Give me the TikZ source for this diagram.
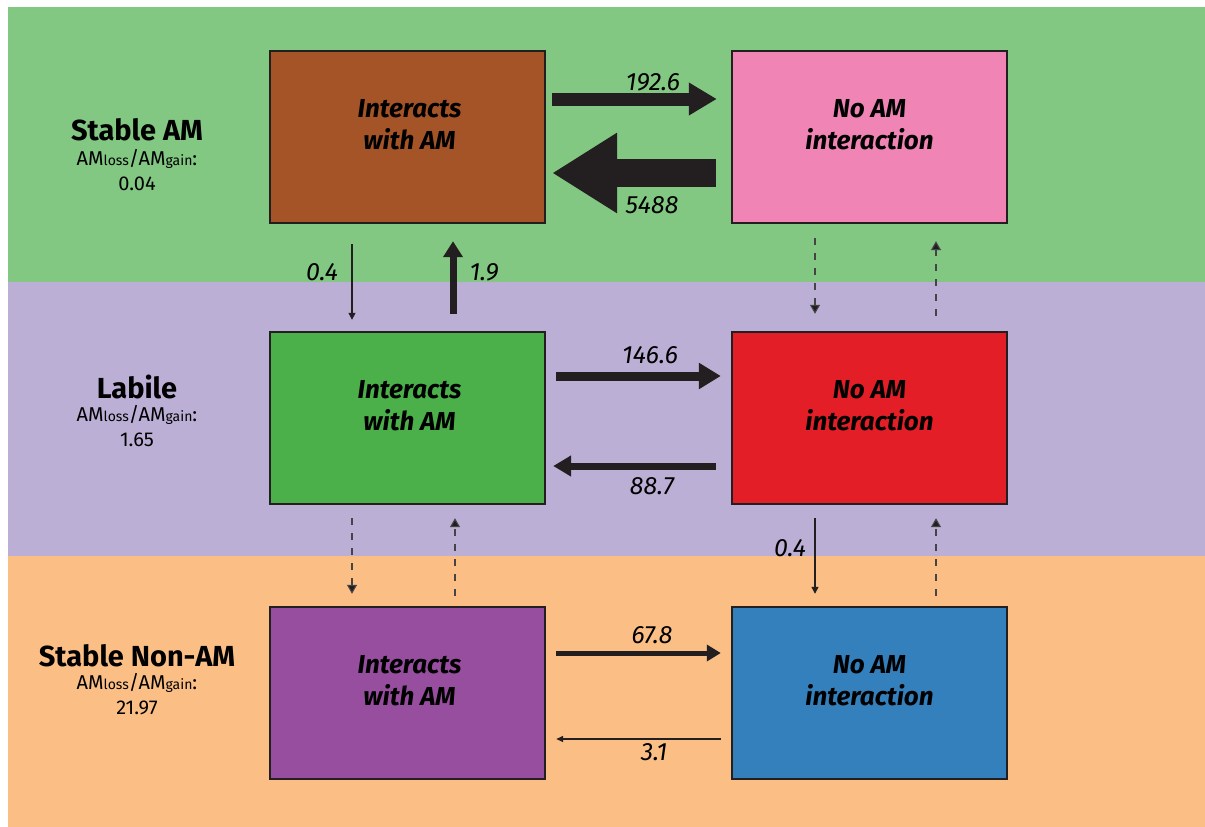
\documentclass[tikz,border=0pt]{standalone}
\usepackage{fontspec}
\setmainfont{Fira Sans}
\usetikzlibrary{arrows.meta,calc}

\definecolor{bandgreen}{HTML}{82C782}
\definecolor{bandpurple}{HTML}{BCAFD5}
\definecolor{bandorange}{HTML}{FBBF86}
\definecolor{boxbrown}{HTML}{A55428}
\definecolor{boxpink}{HTML}{EF84B5}
\definecolor{boxgreen}{HTML}{4BB04A}
\definecolor{boxred}{HTML}{E31E26}
\definecolor{boxpurple}{HTML}{974E9F}
\definecolor{boxblue}{HTML}{3480BD}
\definecolor{ink}{HTML}{231F20}
\definecolor{dashink}{HTML}{444444}

\tikzset{
  statebox/.style={draw=ink, line width=2.4pt, minimum width=275pt, minimum height=172pt,
    inner sep=0pt},
  boxtext/.style={align=center, inner sep=0pt,
    font=\fontsize{26}{32}\selectfont\bfseries\itshape},
  rate/.style={font=\fontsize{25}{25}\selectfont\itshape, text=black, inner sep=0pt},
  grouptitle/.style={font=\fontsize{29}{29}\selectfont\bfseries, inner sep=0pt},
  groupsub/.style={font=\fontsize{20}{25}\selectfont, align=center, inner sep=0pt},
  thinflow/.style={draw=ink, line width=1.3pt, -{Triangle[length=7pt, width=7pt]}},
  dashflow/.style={draw=dashink, line width=1.1pt, dash pattern=on 7pt off 8pt,
    -{Triangle[length=9pt, width=10pt, fill=ink]}}
}

\newcommand{\ratio}[1]{AM{\fontsize{14}{14}\selectfont loss}/AM{\fontsize{14}{14}\selectfont gain}:\\#1}

\begin{document}
\begin{tikzpicture}[x=1pt, y=-1pt]
  \useasboundingbox (0,0) rectangle (1205,827);

  % background bands
  \fill[bandgreen]  (8,7)   rectangle (1205,282);
  \fill[bandpurple] (8,282) rectangle (1205,556);
  \fill[bandorange] (8,556) rectangle (1205,827);

  % group titles
  \node[grouptitle] (tStable) at (137,130) {Stable AM};
  \node[groupsub, anchor=north] (sStable) at (137,149) {\ratio{0.04}};
  \node[grouptitle] (tLabile) at (137,387) {Labile};
  \node[groupsub, anchor=north] (sLabile) at (137,405) {\ratio{1.65}};
  \node[grouptitle] (tNon) at (137,656) {Stable Non-AM};
  \node[groupsub, anchor=north] (sNon) at (137,673) {\ratio{21.97}};

  % state boxes
  \node[statebox, fill=boxbrown]  (a1) at (407.5,137) {};
  \node[statebox, fill=boxpink]   (b1) at (869.5,137) {};
  \node[statebox, fill=boxgreen]  (a2) at (407.5,418) {};
  \node[statebox, fill=boxred]    (b2) at (869.5,418) {};
  \node[statebox, fill=boxpurple] (a3) at (407.5,693) {};
  \node[statebox, fill=boxblue]   (b3) at (869.5,693) {};

  % box captions, set a little above centre
  \node[boxtext] (a1t) at ($(a1.center)+(2,-12)$) {Interacts\\with AM};
  \node[boxtext] (b1t) at ($(b1.center)+(0,-12)$) {No AM\\interaction};
  \node[boxtext] (a2t) at ($(a2.center)+(2,-12)$) {Interacts\\with AM};
  \node[boxtext] (b2t) at ($(b2.center)+(0,-12)$) {No AM\\interaction};
  \node[boxtext] (a3t) at ($(a3.center)+(2,-12)$) {Interacts\\with AM};
  \node[boxtext] (b3t) at ($(b3.center)+(0,-12)$) {No AM\\interaction};

  % horizontal transitions, top row
  \draw[draw=ink, line width=13pt, -{Triangle[length=28pt, width=31pt]}]
    ($(a1.east)+(6,-38)$) -- ($(b1.west)+(-14,-38)$);
  \node[rate] (r1) at (653,82) {192.6};
  \draw[draw=ink, line width=28pt, -{Triangle[length=65pt, width=76pt]}]
    ($(b1.west)+(-15,36)$) -- ($(a1.east)+(6,36)$);
  \node[rate] (r2) at (652,205) {5488};

  % horizontal transitions, middle row
  \draw[draw=ink, line width=9pt, -{Triangle[length=22pt, width=25pt]}]
    ($(a2.east)+(10,-42)$) -- ($(b2.west)+(-10,-42)$);
  \node[rate] (r3) at (650,355) {146.6};
  \draw[draw=ink, line width=7pt, -{Triangle[length=18pt, width=20pt]}]
    ($(b2.west)+(-15,48)$) -- ($(a2.east)+(7,48)$);
  \node[rate] (r4) at (652,486) {88.7};

  % horizontal transitions, bottom row
  \draw[draw=ink, line width=5pt, -{Triangle[length=14pt, width=16pt]}]
    ($(a3.east)+(10,-40)$) -- ($(b3.west)+(-10,-40)$);
  \node[rate] (r5) at (652,635) {67.8};
  \draw[draw=ink, line width=1.5pt, -{Triangle[length=7pt, width=6pt]}]
    ($(b3.west)+(-10,46)$) -- ($(a3.east)+(10,46)$);
  \node[rate] (r6) at (654,752) {3.1};

  % vertical transitions, top to middle
  \draw[thinflow] ($(a1.south)+(-55.5,20)$) -- ($(a2.north)+(-55.5,-11)$);
  \node[rate] (r7) at (322,272) {0.4};
  \draw[draw=ink, line width=7pt, -{Triangle[length=16pt, width=19pt]}]
    ($(a2.north)+(45.5,-17)$) -- ($(a1.south)+(45.5,17)$);
  \node[rate] (r8) at (484,272) {1.9};
  \draw[dashflow] ($(b1.south)+(-54.5,14)$) -- ($(b2.north)+(-54.5,-17)$);
  \draw[dashflow] ($(b2.north)+(66.5,-15)$) -- ($(b1.south)+(66.5,17)$);

  % vertical transitions, middle to bottom
  \draw[dashflow] ($(a2.south)+(-55.5,13)$) -- ($(a3.north)+(-55.5,-12)$);
  \draw[dashflow] ($(a3.north)+(47.5,-10)$) -- ($(a2.south)+(47.5,13)$);
  \draw[thinflow] ($(b2.south)+(-54.5,13)$) -- ($(b3.north)+(-54.5,-12)$);
  \node[rate] (r9) at (790,548) {0.4};
  \draw[dashflow] ($(b3.north)+(66.5,-10)$) -- ($(b2.south)+(66.5,13)$);
\end{tikzpicture}
\end{document}
